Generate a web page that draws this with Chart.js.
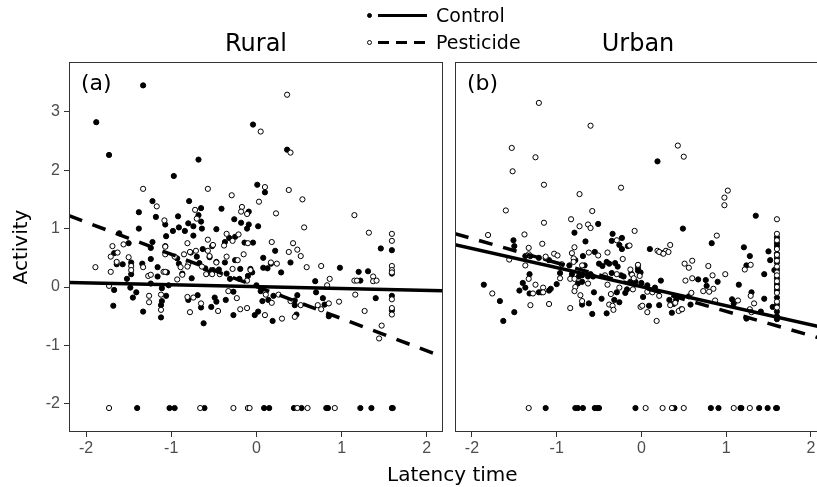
<!DOCTYPE html>
<html>
<head>
<meta charset="utf-8">
<script src="https://cdn.jsdelivr.net/npm/chart.js@4.4.1/dist/chart.umd.min.js"></script>
<style>
  html, body { margin: 0; padding: 0; background: #fff; }
  #wrap { position: relative; width: 817px; height: 487px; overflow: hidden; font-family: "DejaVu Sans", sans-serif; color: #000; }
  #ruralBox { position: absolute; left: 0; top: 0; width: 449px; height: 487px; }
  #urbanBox { position: absolute; left: 449px; top: 0; width: 372px; height: 487px; }
  .dot { position: absolute; width: 5px; height: 5px; border-radius: 50%; box-sizing: border-box; border: 1px solid #000; }
  .ln { position: absolute; height: 2.5px; width: 49px; }
  .lab { position: absolute; font-size: 19px; line-height: 20px; white-space: nowrap; }
  #xTitle { position: absolute; left: 387px; top: 464px; font-size: 20px; line-height: 20px; white-space: nowrap; }
</style>
</head>
<body>
<div id="wrap">
  <div id="ruralBox"><canvas id="rural"></canvas></div>
  <div id="urbanBox"><canvas id="urban"></canvas></div>

  <!-- shared legend -->
  <span class="dot" style="left:367px; top:12.5px; background:#000"></span>
  <span class="ln" style="left:378px; top:14px; background:#000"></span>
  <span class="lab" style="left:436px; top:5px">Control</span>
  <span class="dot" style="left:367px; top:39.5px; background:#fff"></span>
  <span class="ln" style="left:378px; top:41px; background:repeating-linear-gradient(to right, #000 0 11px, transparent 11px 18px)"></span>
  <span class="lab" style="left:436px; top:32px">Pesticide</span>

  <div id="xTitle">Latency time</div>
</div>

<script>
// axis limits and tick labels
const X_MIN = -2.2, X_MAX_RURAL = 2.19, X_MAX_URBAN = 2.12;
const Y_MIN = -2.48, Y_MAX = 3.85;
const xTicks = [-2, -1, 0, 1, 2];
const yTicks = [-2, -1, 0, 1, 2, 3];

// fitted lines: [intercept, slope]
const ruralControlFit = [0.006, -0.032];
const ruralPesticideFit = [0.01, -0.55];
const urbanControlFit = [0.006, -0.326];
const urbanPesticideFit = [0.0, -0.415];

// (a) Rural, control (filled points) [latency, activity]
const ruralControl = [
  [-1.33,3.45],[-1.88,2.82],[-1.73,2.26],[-0.04,2.78],[-0.68,2.18],[-0.97,1.90],[0.36,2.35],[0.01,1.75],[0.10,1.62],
  [-1.22,1.47],[-0.79,1.47],[-0.65,1.35],[-0.41,1.34],[-0.09,1.29],[-1.38,1.28],[-1.18,1.20],[-0.68,1.23],[-0.92,1.21],
  [-1.07,1.07],[-0.80,1.09],[-0.74,1.04],[-0.65,1.12],[-0.64,1.00],[-0.91,1.02],[-0.98,0.96],[-0.84,0.96],[-0.26,1.16],
  [-0.18,1.10],[-0.09,1.07],[-0.11,1.00],[0.02,1.04],[-1.38,1.00],[-1.61,0.92],[-1.06,0.87],[-0.74,0.88],[-0.47,0.99],
  [-0.32,0.84],[-0.25,0.86],[1.59,0.63],[1.46,0.66],[-0.37,0.77],[-0.14,0.76],[-0.04,0.76],[0.22,0.62],[0.08,0.50],
  [-0.52,0.70],[-0.63,0.65],[-1.22,0.77],[-1.24,0.67],[-1.07,0.70],[-1.50,0.75],[-1.67,0.58],[-1.47,0.42],[-1.64,0.39],
  [-1.57,0.39],[-1.47,0.22],[-1.52,0.14],[-1.34,0.40],[-1.24,0.48],[-1.16,0.34],[-1.16,0.18],[-1.05,0.25],[-0.93,0.49],
  [-0.91,0.40],[-0.87,0.23],[-0.77,0.59],[-0.76,0.15],[-0.70,0.52],[-0.67,0.41],[-0.60,0.32],[-0.55,0.51],[-0.47,0.43],
  [-0.51,0.29],[-0.56,0.25],[-0.44,0.30],[-0.37,0.42],[-0.25,0.46],[-0.19,0.31],[-0.10,0.19],[-0.07,0.31],[-0.05,0.25],
  [-0.35,0.23],[-0.31,0.14],[-0.20,0.14],[0.00,0.03],[0.08,0.33],[0.13,0.32],[0.17,0.40],[0.29,0.25],[0.40,0.42],
  [0.98,0.33],[1.20,0.26],[1.31,0.27],[1.22,0.11],[1.59,0.23],[1.59,-0.15],[1.59,-0.40],[1.40,-0.19],[0.69,0.10],
  [0.70,-0.09],[0.78,-0.19],[0.80,-0.30],[0.85,-0.50],[0.48,-0.14],[0.45,-0.23],[0.45,-0.31],[0.47,-0.47],[0.19,-0.58],
  [-0.02,-0.48],[0.02,-0.42],[0.14,-0.22],[0.20,-0.15],[0.05,-0.07],[0.07,-0.24],[-0.27,-0.48],[-0.27,-0.08],[-0.36,-0.22],
  [-0.47,-0.25],[-0.53,-0.34],[-0.62,-0.62],[-0.65,-0.35],[-0.69,-0.14],[-0.80,-0.22],[-0.49,-0.18],[-1.11,-0.24],
  [-1.12,-0.31],[-1.12,-0.52],[-1.06,-0.15],[-1.33,-0.42],[-1.45,-0.18],[-1.41,-0.09],[-1.48,-0.01],[-1.67,-0.05],
  [-1.68,-0.32],[-1.11,-0.02],[-1.03,0.03],[-1.24,0.06],
  [-1.40,-2.07],[-1.02,-2.07],[-0.96,-2.07],[-0.61,-2.07],[0.09,-2.07],[0.15,-2.07],[0.44,-2.07],[0.53,-2.07],
  [0.82,-2.07],[0.84,-2.07],[1.22,-2.07],[1.35,-2.07],[1.59,-2.07],[1.60,-2.07]
];

// (a) Rural, pesticide (open points)
const ruralPesticide = [
  [0.36,3.29],[0.05,2.66],[0.40,2.30],[-1.33,1.68],[-0.57,1.68],[0.10,1.71],[-0.29,1.57],[0.38,1.66],[0.54,1.50],
  [-1.17,1.38],[0.03,1.46],[-0.72,1.32],[-0.17,1.37],[-0.18,1.29],[-0.11,1.25],[0.23,1.26],[1.15,1.23],[-0.70,1.17],
  [-1.08,1.14],[0.56,1.02],[-0.35,0.91],[-0.21,0.90],[1.32,0.93],[1.59,0.91],[1.59,0.79],[-0.57,0.81],[-0.81,0.75],
  [-0.38,0.71],[-0.28,0.79],[-0.10,0.75],[0.18,0.77],[0.43,0.75],[0.38,0.60],[0.48,0.64],[0.52,0.53],[-0.51,0.72],
  [-0.71,0.62],[-0.57,0.62],[-1.07,0.69],[-1.07,0.56],[-1.69,0.70],[-1.56,0.73],[-1.63,0.59],[-1.71,0.52],[-1.50,0.51],
  [-1.64,0.43],[-1.47,0.36],[-1.47,0.29],[-1.71,0.26],[-1.89,0.34],[-1.33,0.34],[-1.27,0.19],[-1.24,0.21],[-1.09,0.26],
  [-1.07,0.26],[-0.96,0.52],[-0.89,0.34],[-0.85,0.56],[-0.87,0.21],[-0.78,0.60],[-0.80,0.39],[-0.81,0.35],[-0.64,0.35],
  [-0.59,0.22],[-0.55,0.53],[-0.52,0.22],[-0.47,0.42],[-0.43,0.22],[-0.35,0.52],[-0.28,0.31],[-0.22,0.46],[-0.15,0.56],
  [-0.07,0.29],[-0.11,0.11],[0.17,0.42],[0.24,0.40],[0.59,0.34],[0.76,0.36],[1.15,0.11],[1.18,0.11],[1.37,0.18],
  [1.37,0.10],[1.41,0.11],[1.59,0.36],[1.59,0.29],[1.59,0.25],[1.59,-0.21],[1.59,-0.36],[1.59,-0.47],[1.27,-0.41],
  [1.47,-0.66],[1.44,-0.88],[0.86,0.14],[0.83,0.03],[0.97,-0.25],[0.85,-0.28],[0.72,-0.31],[0.76,-0.38],[1.16,-0.13],
  [0.40,-0.24],[0.52,-0.31],[0.45,-0.51],[0.30,-0.54],[0.10,-0.48],[0.18,-0.27],[0.26,-0.13],[0.11,-0.13],[-0.11,-0.36],
  [-0.19,-0.38],[-0.23,-0.19],[-0.33,-0.07],[-0.45,-0.41],[-0.65,-0.28],[-0.78,-0.43],[-0.74,-0.18],[-0.81,-0.17],
  [-1.12,-0.39],[-1.12,-0.13],[-1.26,-0.15],[-1.26,-0.26],[-1.73,0.02],[-0.93,0.13],
  [-1.73,-2.07],[-0.66,-2.07],[-0.27,-2.07],[-0.10,-2.07],[-0.08,-2.07],[0.48,-2.07],[0.60,-2.07],[0.92,-2.07]
];

// (b) Urban, control (filled points)
const urbanControl = [
  [0.19,2.15],[1.35,1.22],[-0.51,1.08],[-0.79,0.93],[-0.34,0.91],[-0.66,0.78],[-1.51,0.80],[-1.50,0.70],[-0.35,0.79],
  [-0.23,0.84],[-0.26,0.72],[-0.16,0.70],[-0.23,0.65],[0.49,1.00],[0.83,0.75],[1.21,0.68],[0.10,0.65],[1.50,0.61],
  [-1.86,0.04],[-1.67,-0.24],[-1.63,-0.58],[-1.50,-0.43],[-1.40,0.07],[-1.37,-0.01],[-1.44,-0.06],[-1.32,0.22],
  [-1.32,-0.11],[-1.21,-0.09],[-1.18,-0.09],[-1.09,-0.06],[-1.07,-0.03],[-1.00,0.05],[-0.96,0.24],[-1.37,0.53],
  [-1.31,0.53],[-1.21,0.50],[-1.13,0.49],[-1.09,0.46],[-0.78,0.46],[-0.69,0.53],[-0.67,0.37],[-0.85,0.37],[-0.82,0.22],
  [-0.74,0.18],[-0.70,0.20],[-0.70,0.09],[-0.75,0.06],[-0.70,-0.30],[-0.62,-0.28],[-0.58,-0.46],[-0.63,0.18],[-0.60,0.22],
  [-0.57,0.18],[-0.55,0.60],[-0.50,0.40],[-0.46,0.36],[-0.41,0.43],[-0.38,0.40],[-0.35,0.24],[-0.31,0.41],[-0.28,0.35],
  [-0.24,0.20],[-0.21,0.18],[-0.29,-0.09],[-0.26,-0.26],[-0.32,-0.22],[-0.41,-0.45],[-0.47,-0.20],[-0.56,-0.09],
  [-0.12,0.23],[-0.13,0.09],[-0.07,0.09],[-0.04,0.28],[-0.17,-0.04],[-0.19,-0.10],
  [-0.04,0.32],[-0.01,0.25],[0.00,0.07],[0.02,-0.17],[0.07,0.03],[0.16,-0.01],[0.09,-0.32],[0.21,-0.31],[0.23,0.11],
  [0.25,0.58],[0.33,-0.22],[0.36,-0.44],[0.38,-0.29],[0.47,-0.38],[0.41,-0.22],[0.56,-0.16],[0.67,0.13],[0.76,0.12],
  [0.77,0.02],[0.90,0.09],[0.58,-0.30],[1.07,-0.21],[1.09,-0.28],[1.15,0.04],[1.24,-0.54],[1.24,0.37],[1.28,0.53],
  [1.30,-0.09],[1.41,-0.42],[1.45,0.22],[1.45,-0.20],[1.52,0.46],[1.57,0.29],[1.55,-0.34],[1.60,0.57],
  [1.6,0.85],[1.6,0.75],[1.6,0.70],[1.6,0.50],[1.6,0.42],[1.6,0.30],[1.6,0.15],[1.6,0.05],[1.6,-0.05],[1.6,-0.18],
  [1.6,-0.30],[1.6,-0.42],[1.6,-0.50],[1.6,-0.55],
  [-1.13,-2.07],[-0.78,-2.07],[-0.75,-2.07],[-0.69,-2.07],[-0.55,-2.07],[-0.52,-2.07],[-0.50,-2.07],[-0.07,-2.07],
  [0.39,-2.07],[0.82,-2.07],[0.91,-2.07],[1.17,-2.07],[1.18,-2.07],[1.39,-2.07],[1.49,-2.07],[1.59,-2.07],[1.60,-2.07]
];

// (b) Urban, pesticide (open points)
const urbanPesticide = [
  [-1.21,3.15],[-0.60,2.76],[-1.53,2.38],[-1.25,2.22],[-1.52,1.98],[-1.15,1.75],[-0.73,1.59],[-0.24,1.70],[-1.60,1.31],
  [-0.58,1.30],[-1.15,1.10],[-0.83,1.16],[-0.73,1.04],[-0.63,1.07],[-0.60,1.01],[-1.81,0.89],[-1.38,0.90],[-0.08,0.96],
  [-1.17,0.74],[-1.33,0.67],[-0.79,0.68],[-0.29,0.80],[-0.14,0.71],
  [0.43,2.42],[0.50,2.23],[1.02,1.65],[0.98,1.53],[0.98,1.40],[1.60,1.16],[0.89,0.88],[1.60,0.91],[0.34,0.72],
  [0.19,0.62],[0.29,0.62],
  [-1.76,-0.11],[-1.31,-0.31],[-1.33,0.14],[-1.25,0.04],[-1.28,-0.11],[-1.16,-0.01],[-1.16,-0.09],[-1.09,-0.29],
  [-0.96,0.15],[-0.84,-0.36],[-0.94,0.39],[-1.37,0.37],[-1.33,0.56],[-1.56,0.47],[-1.03,0.57],[-0.99,0.54],[-1.13,0.52],
  [-0.82,0.58],[-0.80,0.49],[-0.80,0.43],[-0.70,0.37],[-0.84,0.14],[-0.79,0.14],[-0.78,0.00],[-0.79,-0.07],[-0.72,-0.14],
  [-0.70,-0.24],[-0.63,0.06],[-0.62,0.59],[-0.51,0.54],[-0.40,0.59],[-0.43,0.20],[-0.40,0.04],[-0.29,0.22],[-0.22,0.48],
  [-0.26,-0.01],[-0.36,-0.12],[-0.38,-0.30],[-0.34,-0.32],[-0.33,-0.39],[-0.13,0.30],[-0.11,0.21],[-0.09,0.15],
  [-0.04,0.37],[-0.10,-0.04],[-0.01,-0.34],
  [-0.04,0.38],[-0.02,0.19],[0.07,-0.08],[0.13,-0.09],[0.21,-0.15],[0.01,-0.32],[0.07,-0.43],[0.18,-0.58],[0.21,0.60],
  [0.32,0.60],[0.26,0.57],[0.34,-0.31],[0.40,-0.27],[0.44,-0.41],[0.48,-0.38],[0.51,0.40],[0.56,0.33],[0.60,0.45],
  [0.52,0.11],[0.60,0.15],[0.79,0.36],[0.84,0.20],[0.99,0.22],[0.73,-0.07],[0.80,-0.08],[0.85,-0.03],[0.59,-0.10],
  [0.87,-0.23],[1.14,-0.23],[1.22,0.30],[1.29,0.38],[1.29,-0.15],[1.33,-0.28],[1.28,-0.38],[1.30,-0.43],
  [1.6,0.80],[1.6,0.65],[1.6,0.55],[1.6,0.45],[1.6,0.35],[1.6,0.25],[1.6,0.20],[1.6,0.10],[1.6,0.0],[1.6,-0.10],
  [1.6,-0.25],[1.6,-0.35],
  [-1.33,-2.07],[0.05,-2.07],[0.25,-2.07],[0.36,-2.07],[0.50,-2.07],[1.09,-2.07],[1.28,-2.07]
];

const toPoints = rows => rows.map(([x, y]) => ({ x, y }));
const fitLine = ([a, b], xMax) => [{ x: X_MIN, y: a + b * X_MIN }, { x: xMax, y: a + b * xMax }];

// panel frame and (a)/(b) tag
const panelFrame = {
  id: 'panelFrame',
  afterDatasetsDraw(chart, args, opts) {
    const { ctx, chartArea: a } = chart;
    ctx.save();
    ctx.strokeStyle = '#333333';
    ctx.lineWidth = 1;
    ctx.strokeRect(a.left + 0.5, a.top + 0.5, a.width - 1, a.height - 1);
    ctx.fillStyle = '#000';
    ctx.font = '22px "DejaVu Sans"';
    ctx.textBaseline = 'middle';
    ctx.fillText(opts.tag, a.left + 12, a.top + 22);
    ctx.restore();
  }
};

const tickGrid = { display: true, drawOnChartArea: false, drawTicks: true, tickLength: 5, tickColor: '#333333', tickWidth: 1 };
const tickFont = { family: '"Liberation Sans", Arial, sans-serif', size: 16 };

const createPanel = (ctx, opts) => new Chart(ctx, {
  type: 'scatter',
  data: {
    datasets: [
      {
        type: 'line', data: fitLine(opts.controlFit, opts.xMax), borderColor: '#000', borderWidth: 3.5,
        pointRadius: 0, fill: false, order: 0
      },
      {
        type: 'line', data: fitLine(opts.pesticideFit, opts.xMax), borderColor: '#000', borderWidth: 3.5,
        borderDash: [14, 11], pointRadius: 0, fill: false, order: 0
      },
      {
        data: toPoints(opts.control), backgroundColor: '#000', borderColor: '#000',
        pointRadius: 2.6, pointBorderWidth: 1, order: 2
      },
      {
        data: toPoints(opts.pesticide), backgroundColor: '#fff', borderColor: '#000',
        pointRadius: 2.6, pointBorderWidth: 1, order: 1
      }
    ]
  },
  options: {
    responsive: true,
    maintainAspectRatio: false,
    animation: false,
    layout: { padding: opts.padding, autoPadding: false },
    scales: {
      x: {
        type: 'linear', min: X_MIN, max: opts.xMax,
        afterBuildTicks: axis => { axis.ticks = xTicks.map(v => ({ value: v })); },
        afterFit: axis => {
          axis.height = 55;
          // labels never reach the panel edges, so no side padding
          axis.paddingLeft = 0;
          axis.paddingRight = 0;
        },
        grid: tickGrid,
        border: { display: false },
        ticks: { color: '#4d4d4d', font: tickFont, padding: 2, maxRotation: 0 }
      },
      y: {
        display: opts.showY,
        min: Y_MIN, max: Y_MAX,
        afterBuildTicks: axis => { axis.ticks = yTicks.map(v => ({ value: v })); },
        afterFit: axis => { axis.width = opts.showY ? 69 : 0; },
        grid: tickGrid,
        border: { display: false },
        ticks: { color: '#4d4d4d', font: tickFont, padding: 4 },
        title: {
          display: true, text: 'Activity', color: '#000',
          font: { family: '"DejaVu Sans"', size: 20 }, padding: { top: 10, bottom: 0 }
        }
      }
    },
    plugins: {
      legend: { display: false },
      tooltip: { enabled: false },
      title: {
        display: true, text: opts.title, fullSize: false, color: '#000',
        font: { family: '"DejaVu Sans"', size: 24, weight: 'normal' },
        padding: { top: 30, bottom: 3.2 }
      },
      panelFrame: { tag: opts.tag }
    }
  },
  plugins: [panelFrame]
});

createPanel(document.getElementById('rural'), {
  title: 'Rural', tag: '(a)', xMax: X_MAX_RURAL, showY: true,
  control: ruralControl, pesticide: ruralPesticide,
  controlFit: ruralControlFit, pesticideFit: ruralPesticideFit,
  padding: { top: 0, right: 6, bottom: 0, left: 0 }
});

createPanel(document.getElementById('urban'), {
  title: 'Urban', tag: '(b)', xMax: X_MAX_URBAN, showY: false,
  control: urbanControl, pesticide: urbanPesticide,
  controlFit: urbanControlFit, pesticideFit: urbanPesticideFit,
  padding: { top: 0, right: 0, bottom: 0, left: 6 }
});
</script>
</body>
</html>
